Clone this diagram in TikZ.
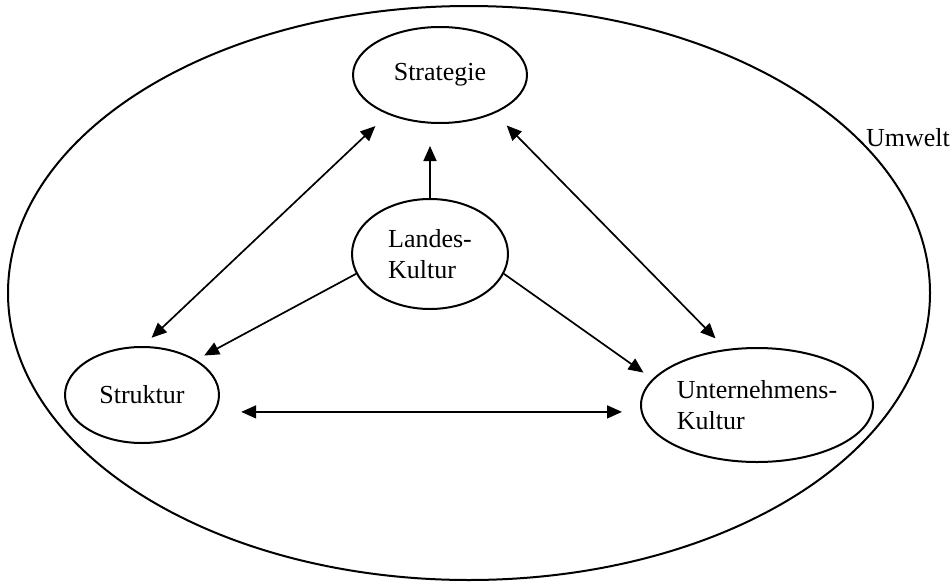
\documentclass[tikz,border=0pt]{standalone}
\usepackage{fontspec}
\setmainfont{Liberation Serif}
\usetikzlibrary{arrows.meta,shapes.geometric}
\tikzset{
  rand/.style={draw,line width=2pt,ellipse,inner sep=0pt},
  feld/.style={draw,line width=2pt,ellipse,inner sep=0pt,font=\fontsize{26}{31}\selectfont,align=left},
  schrift/.style={font=\fontsize{26}{31}\selectfont},
  pfeil/.style={-{Triangle[length=15pt,width=13pt]},line width=1.7pt},
  doppel/.style={{Triangle[length=15pt,width=13pt]}-{Triangle[length=15pt,width=13pt]},line width=1.7pt}
}

\begin{document}
\begin{tikzpicture}[x=1pt,y=-1pt]
  \useasboundingbox (0,0) rectangle (950,581);
  \node[rand,minimum width=922pt,minimum height=574pt] (umwelt) at (469,293) {};
  \node[schrift] (umweltname) at (908,138) {Umwelt};
  \node[feld,minimum width=174pt,minimum height=96pt] (strategie) at (440,75) {Strategie};
  \node[feld,minimum width=156pt,minimum height=110pt] (landes) at (430,254) {Landes-\\Kultur};
  \node[feld,minimum width=154pt,minimum height=96pt] (struktur) at (142,395) {Struktur};
  \node[feld,minimum width=232pt,minimum height=114pt] (unternehmen) at (757,405) {Unternehmens-\\Kultur};
  \draw[doppel,shorten <=17pt,shorten >=12pt] (strategie.217) -- (struktur.89);
  \draw[doppel,shorten <=17pt,shorten >=15pt] (strategie.325) -- (unternehmen.119);
  \draw[pfeil,shorten >=22pt] (landes.north) -- (landes.north |- strategie.south);
  \draw[pfeil,shorten >=9pt] (landes.195) -- (struktur.33);
  \draw[pfeil,shorten >=11pt] (landes.345) -- (unternehmen.166);
  \draw[doppel,shorten <=26pt,shorten >=18pt] (struktur.-13) -- (struktur.-13 -| unternehmen.west);
\end{tikzpicture}
\end{document}
